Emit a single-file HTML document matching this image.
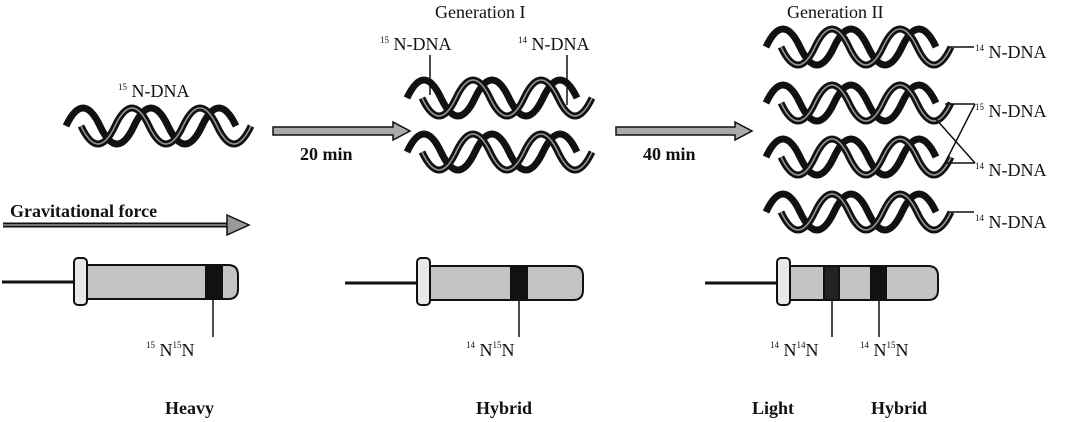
<!DOCTYPE html>
<html><head><meta charset="utf-8"><style>
html,body{margin:0;padding:0;background:#fff;}
svg{display:block}
text{font-family:"Liberation Serif",serif;font-size:18px;fill:#111;}
.s{font-size:9px}
</style></head><body>
<svg width="1076" height="422" viewBox="0 0 1076 422">
<defs>
<g id="hx">
<path d="M0,0 Q17,-36 34,0 T68,0 T102,0 T136,0 T170,0" fill="none" stroke="#111" stroke-width="7"/>
<path d="M15,0 Q32,36 49,0 T83,0 T117,0 T151,0 T185,0" fill="none" stroke="#111" stroke-width="7"/>
<path d="M15,0 Q32,36 49,0 T83,0 T117,0 T151,0 T185,0" fill="none" stroke="#999" stroke-width="1.5"/>
</g>
</defs>
<use href="#hx" x="66" y="126"/>
<use href="#hx" x="407" y="98"/>
<use href="#hx" x="407" y="152"/>
<use href="#hx" x="766" y="47"/>
<use href="#hx" x="766" y="103"/>
<use href="#hx" x="766" y="157"/>
<use href="#hx" x="766" y="212"/>
<text x="118" y="97"><tspan class="s" dy="-7">15</tspan><tspan dy="7"> N-DNA</tspan></text>
<text x="435" y="18">Generation I</text>
<text x="380" y="50"><tspan class="s" dy="-7">15</tspan><tspan dy="7"> N-DNA</tspan></text>
<text x="518" y="50"><tspan class="s" dy="-7">14</tspan><tspan dy="7"> N-DNA</tspan></text>
<line x1="430" y1="55" x2="430" y2="95" stroke="#111" stroke-width="1.5"/>
<line x1="567" y1="55" x2="567" y2="105" stroke="#111" stroke-width="1.5"/>
<text x="787" y="18">Generation II</text>
<line x1="950" y1="47" x2="974" y2="47" stroke="#111" stroke-width="1.5"/>
<text x="975" y="58"><tspan class="s" dy="-7">14</tspan><tspan dy="7"> N-DNA</tspan></text>
<line x1="945" y1="104" x2="975" y2="104" stroke="#111" stroke-width="1.5"/>
<text x="975" y="117"><tspan class="s" dy="-7">15</tspan><tspan dy="7"> N-DNA</tspan></text>
<line x1="945" y1="163" x2="975" y2="163" stroke="#111" stroke-width="1.5"/>
<text x="975" y="176"><tspan class="s" dy="-7">14</tspan><tspan dy="7"> N-DNA</tspan></text>
<line x1="975" y1="104" x2="945" y2="163" stroke="#111" stroke-width="1.5"/>
<line x1="935" y1="118" x2="975" y2="163" stroke="#111" stroke-width="1.5"/>
<line x1="950" y1="212" x2="974" y2="212" stroke="#111" stroke-width="1.5"/>
<text x="975" y="228"><tspan class="s" dy="-7">14</tspan><tspan dy="7"> N-DNA</tspan></text>
<g stroke="#111" stroke-width="1.5" fill="#aaa">
<path d="M273,127 H393 V122 L410,131 L393,140 V135 H273 Z"/>
<path d="M616,127 H735 V122 L752,131 L735,140 V135 H616 Z"/>
</g>
<text x="300" y="160" style="font-weight:bold">20 min</text>
<text x="643" y="160" style="font-weight:bold">40 min</text>
<text x="10" y="217" style="font-weight:bold">Gravitational force</text>
<line x1="3" y1="225" x2="230" y2="225" stroke="#111" stroke-width="5"/>
<line x1="3" y1="225" x2="230" y2="225" stroke="#999" stroke-width="1.5"/>
<path d="M227,215 L249,225 L227,235 Z" fill="#999" stroke="#111" stroke-width="1.5"/>
<g stroke="#111" stroke-width="2">
<line x1="2" y1="282" x2="75" y2="282" stroke-width="3"/>
<path d="M86,265 H228 Q238,265 238,275 V289 Q238,299 228,299 H86 Z" fill="#c4c4c4"/>
<rect x="206" y="265" width="16" height="34" fill="#111"/>
<rect x="74" y="258" width="13" height="47" rx="4" fill="#e8e8e8"/>
<line x1="213" y1="299" x2="213" y2="337" stroke-width="1.5"/>
<line x1="345" y1="283" x2="418" y2="283" stroke-width="3"/>
<path d="M428,266 H573 Q583,266 583,276 V290 Q583,300 573,300 H428 Z" fill="#c4c4c4"/>
<rect x="511" y="266" width="16" height="34" fill="#111"/>
<rect x="417" y="258" width="13" height="47" rx="4" fill="#e8e8e8"/>
<line x1="519" y1="300" x2="519" y2="337" stroke-width="1.5"/>
<line x1="705" y1="283" x2="778" y2="283" stroke-width="3"/>
<path d="M788,266 H928 Q938,266 938,276 V290 Q938,300 928,300 H788 Z" fill="#c4c4c4"/>
<rect x="824" y="266" width="15" height="34" fill="#222"/>
<rect x="871" y="266" width="15" height="34" fill="#111"/>
<rect x="777" y="258" width="13" height="47" rx="4" fill="#e8e8e8"/>
<line x1="832" y1="300" x2="832" y2="337" stroke-width="1.5"/>
<line x1="879" y1="300" x2="879" y2="337" stroke-width="1.5"/>
</g>
<text x="146" y="356"><tspan class="s" dy="-8">15</tspan><tspan dy="8"> N</tspan><tspan class="s" dy="-8">15</tspan><tspan dy="8">N</tspan></text>
<text x="466" y="356"><tspan class="s" dy="-8">14</tspan><tspan dy="8"> N</tspan><tspan class="s" dy="-8">15</tspan><tspan dy="8">N</tspan></text>
<text x="770" y="356"><tspan class="s" dy="-8">14</tspan><tspan dy="8"> N</tspan><tspan class="s" dy="-8">14</tspan><tspan dy="8">N</tspan></text>
<text x="860" y="356"><tspan class="s" dy="-8">14</tspan><tspan dy="8"> N</tspan><tspan class="s" dy="-8">15</tspan><tspan dy="8">N</tspan></text>
<text x="165" y="414" style="font-weight:bold">Heavy</text>
<text x="476" y="414" style="font-weight:bold">Hybrid</text>
<text x="752" y="414" style="font-weight:bold">Light</text>
<text x="871" y="414" style="font-weight:bold">Hybrid</text>
</svg>
</body></html>
